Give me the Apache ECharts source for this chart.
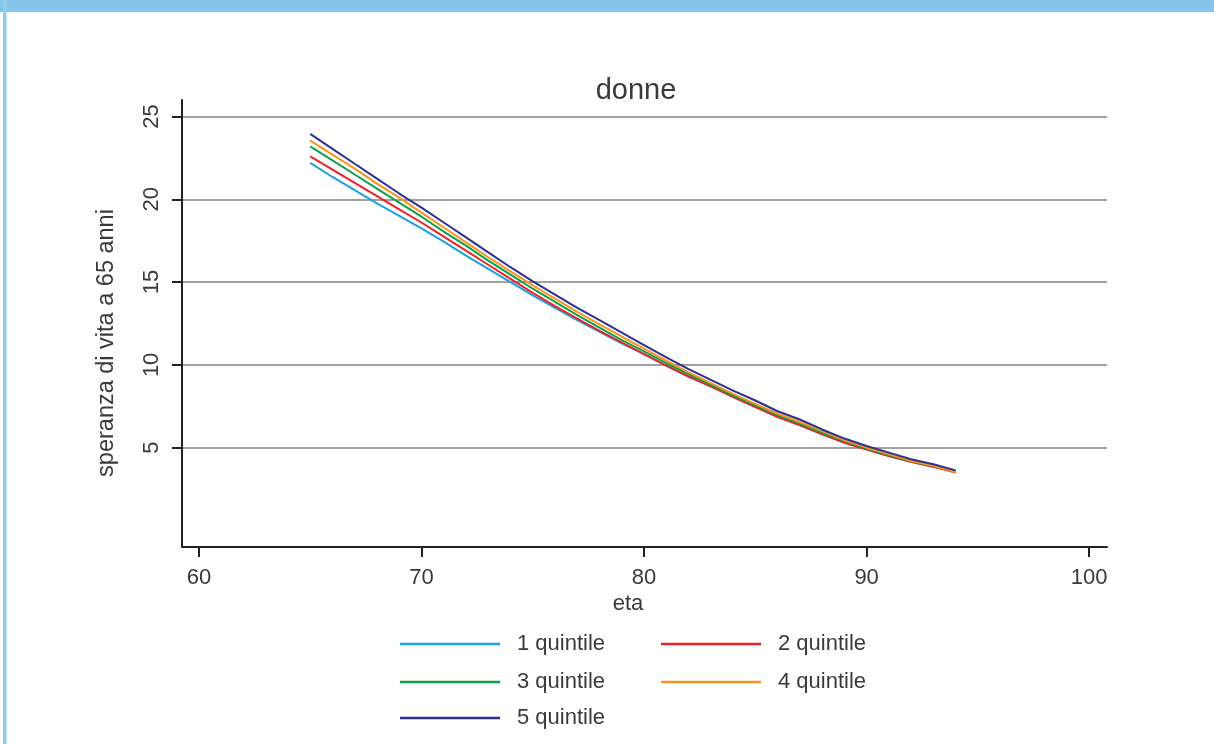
<!DOCTYPE html>
<html>
<head>
<meta charset="utf-8">
<script src="https://cdn.jsdelivr.net/npm/echarts@6/dist/echarts.min.js"></script>
<style>
html,body{margin:0;padding:0;background:#fff;}
#chart{width:1214px;height:744px;}
</style>
</head>
<body>
<div id="chart"></div>
<script>
const ages = [65,66,67,68,69,70,71,72,73,74,75,76,77,78,79,80,81,82,83,84,85,86,87,88,89,90,91,92,93,94];
const q1 = [22.2,21.35,20.55,19.75,19.0,18.25,17.45,16.6,15.8,15.0,14.2,13.45,12.7,12.0,11.3,10.65,9.95,9.3,8.7,8.1,7.5,6.9,6.4,5.85,5.35,4.9,4.5,4.15,3.85,3.55];
const q2 = [22.6,21.8,21.0,20.2,19.4,18.6,17.75,16.9,16.05,15.2,14.35,13.55,12.8,12.05,11.35,10.65,9.95,9.3,8.7,8.05,7.45,6.85,6.35,5.8,5.3,4.88,4.5,4.15,3.85,3.5];
const q3 = [23.2,22.35,21.5,20.65,19.8,18.95,18.05,17.2,16.3,15.45,14.6,13.8,13.0,12.25,11.5,10.82,10.1,9.45,8.8,8.15,7.55,6.95,6.45,5.9,5.4,4.95,4.55,4.2,3.9,3.55];
const q4 = [23.55,22.7,21.85,20.95,20.1,19.2,18.3,17.4,16.5,15.65,14.8,14.0,13.2,12.45,11.7,10.98,10.25,9.55,8.9,8.25,7.65,7.05,6.55,6.0,5.45,5.0,4.6,4.2,3.9,3.52];
const q5 = [23.95,23.05,22.15,21.25,20.35,19.5,18.6,17.7,16.8,15.9,15.05,14.25,13.45,12.7,11.95,11.2,10.45,9.75,9.1,8.45,7.85,7.2,6.7,6.1,5.55,5.1,4.7,4.3,4.0,3.63];
const seriesNames = ['1 quintile','2 quintile','3 quintile','4 quintile','5 quintile'];
const seriesValues = [q1,q2,q3,q4,q5];
const colors = ['#1AA1E0','#EC2227','#0FA04B','#F7941D','#2E3192'];
const xTicks = [60,70,80,90,100];
const yTicks = [5,10,15,20,25];

const FONT = 'Liberation Sans, Arial, sans-serif';
const TXT = '#3a3a3a';

const chart = echarts.init(document.getElementById('chart'), null, {renderer:'canvas'});

const series = seriesNames.map((n,i)=>({
  name:n, type:'line', symbol:'none', showSymbol:false, animation:false,
  lineStyle:{width:2, color:colors[i]}, itemStyle:{color:colors[i]},
  data: ages.map((a,j)=>[a, seriesValues[i][j]])
}));

const legendPos = [
  {left:400, top:633},{left:661, top:633},
  {left:400, top:671},{left:661, top:671},
  {left:400, top:707}
];
const legends = seriesNames.map((n,i)=>({
  data:[{name:n, icon:'rect'}], left:legendPos[i].left, top:legendPos[i].top,
  itemWidth:100, itemHeight:2.5, orient:'horizontal', selectedMode:false, padding:0,
  textStyle:{fontFamily:FONT, fontSize:22, color:TXT, padding:[0,0,0,12]}
}));

chart.setOption({
  animation:false,
  backgroundColor:'#fff',
  grid:{left:182, right:107, top:100, bottom:197, containLabel:false},
  xAxis:{
    type:'value', min:59.24, max:100.8,
    axisLine:{show:true, onZero:false, lineStyle:{color:'#222', width:2}},
    axisTick:{show:true, inside:false, length:10, lineStyle:{color:'#222', width:2}, customValues:xTicks},
    axisLabel:{customValues:xTicks, fontFamily:FONT, fontSize:22, color:TXT, margin:20},
    splitLine:{show:false}
  },
  yAxis:{
    type:'value', min:-1, max:26,
    axisLine:{show:true, onZero:false, lineStyle:{color:'#222', width:2}},
    axisTick:{show:true, inside:false, length:10, lineStyle:{color:'#222', width:2}, customValues:yTicks},
    axisLabel:{customValues:yTicks, rotate:90, fontFamily:FONT, fontSize:22, color:TXT, margin:19},
    splitLine:{show:true, lineStyle:{color:'#A0A0A0', width:2}}
  },
  legend:legends,
  graphic:[
    {type:'rect', shape:{x:0,y:0,width:1214,height:12}, style:{fill:'#86C5EB'}, z:100},
    {type:'rect', shape:{x:3,y:0,width:3.5,height:744}, style:{fill:'#8FCEF0'}, z:100},
    {type:'text', x:636, y:91, style:{text:'donne', fontFamily:FONT, fontSize:29, fill:TXT, textAlign:'center', textVerticalAlign:'middle'}},
    {type:'text', x:628, y:604, style:{text:'eta', fontFamily:FONT, fontSize:22, fill:TXT, textAlign:'center', textVerticalAlign:'middle'}},
    {type:'text', x:107, y:343, rotation:Math.PI/2, style:{text:'speranza di vita a 65 anni', fontFamily:FONT, fontSize:23.5, fill:TXT, textAlign:'center', textVerticalAlign:'middle'}}
  ],
  series:series
});
</script>
</body>
</html>
